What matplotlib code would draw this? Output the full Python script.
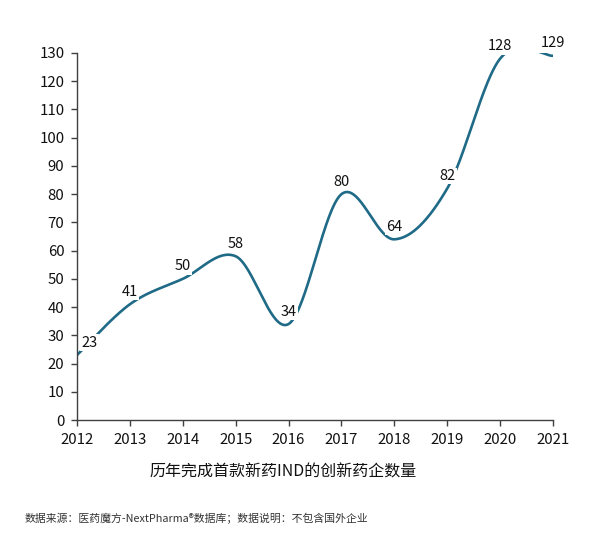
import numpy as np
import matplotlib
matplotlib.use("Agg")
import matplotlib.pyplot as plt

plt.rcParams['font.family'] = ['Noto Sans CJK SC', 'DejaVu Sans']

years = [2012, 2013, 2014, 2015, 2016, 2017, 2018, 2019, 2020, 2021]
counts = [23, 41, 50, 58, 34, 80, 64, 82, 128, 129]
yticks = list(range(0, 131, 10))
title = "历年完成首款新药IND的创新药企数量"
source = "数据来源：医药魔方-NextPharma®数据库；数据说明：不包含国外企业"

LINE_COLOR = "#1f6a86"


def smooth(xs, ys, n=60):
    """Excel-like smoothed line (Catmull-Rom via cubic Bezier)."""
    P = np.column_stack([xs, ys]).astype(float)
    Pext = np.vstack([P[0], P, P[-1]])
    out = []
    t = np.linspace(0, 1, n)[:, None]
    for i in range(len(P) - 1):
        p0 = Pext[i + 1]
        p3 = Pext[i + 2]
        c1 = p0 + (Pext[i + 2] - Pext[i]) / 6.0
        c2 = p3 - (Pext[i + 3] - Pext[i + 1]) / 6.0
        seg = ((1 - t) ** 3) * p0 + 3 * ((1 - t) ** 2) * t * c1 + 3 * (1 - t) * t ** 2 * c2 + t ** 3 * p3
        out.append(seg if i == 0 else seg[1:])
    S = np.vstack(out)
    return S[:, 0], S[:, 1]


fig = plt.figure(figsize=(6.0, 5.33), dpi=100)
ax = fig.add_axes([77 / 600, 1 - 420 / 533, (553 - 77) / 600, (420 - 53) / 533])

sx, sy = smooth(years, counts)
line, = ax.plot(sx, sy, color=LINE_COLOR, lw=1.9, zorder=2)
line.set_clip_on(True)

for i, (x, y) in enumerate(zip(years, counts)):
    dx = 9 if i == 0 else 0
    ax.annotate(str(y), (x, y), xytext=(dx, 9), textcoords="offset points",
                ha="center", va="center", fontsize=10.5, color="#111111",
                bbox=dict(boxstyle="square,pad=0.1", fc="white", ec="none"),
                zorder=5, annotation_clip=False)

ax.set_xlim(years[0], years[-1])
ax.set_ylim(0, 130)
ax.set_xticks(years)
ax.set_yticks(yticks)
ax.tick_params(axis='both', direction='out', length=4, width=1, color="#404040",
               labelsize=10.8, labelcolor="#111111")
ax.tick_params(axis='y', pad=5)
ax.tick_params(axis='x', pad=5)
for s in ["top", "right"]:
    ax.spines[s].set_visible(False)
for s in ["left", "bottom"]:
    ax.spines[s].set_color("#404040")
    ax.spines[s].set_linewidth(1.0)

fig.text(283 / 600, 1 - 472 / 533, title, ha="center", va="center", fontsize=11.5, color="#111111")
fig.text(25 / 600, 1 - 518 / 533, source, ha="left", va="center", fontsize=7.8, color="#333333")

fig.savefig("out.png", dpi=100, facecolor="white")
